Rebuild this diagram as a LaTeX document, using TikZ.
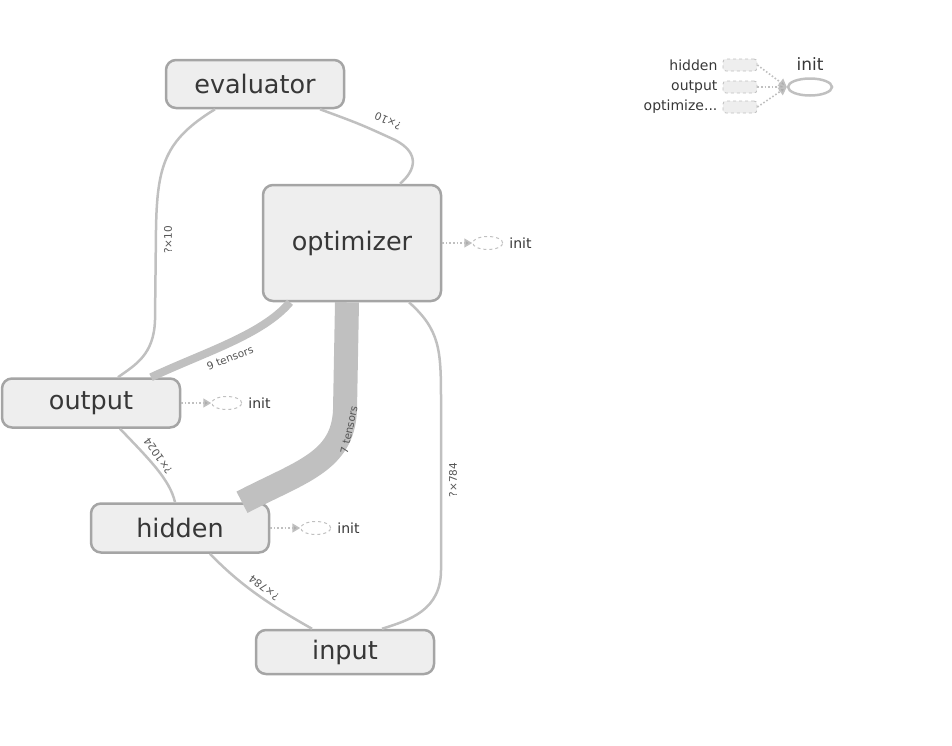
\documentclass[tikz,border=0pt]{standalone}
\usepackage{fontspec}
\setmainfont{DejaVu Sans}
\usetikzlibrary{positioning,arrows.meta,shapes.geometric}

\definecolor{opfill}{RGB}{238,238,238}
\definecolor{opline}{RGB}{165,165,165}
\definecolor{flowgray}{RGB}{192,192,192}
\definecolor{labelgray}{RGB}{55,55,55}

\tikzset{
  op/.style={draw=opline, fill=opfill, line width=2.5pt, rounded corners=10pt,
    text=labelgray, inner sep=0pt, minimum width=178pt, minimum height=48pt,
    font=\fontsize{25.5}{30}\selectfont},
  flow/.style={draw=flowgray, line width=2.5pt},
  shapelbl/.style={text=labelgray!85, inner sep=1pt, font=\fontsize{10.5}{12}\selectfont},
  initref/.style={ellipse, draw=flowgray, dashed, line width=1pt, inner sep=0pt,
    minimum width=30pt, minimum height=13pt},
  ctrldep/.style={draw=flowgray, dotted, line width=1.6pt,
    -{Triangle[length=8pt,width=9pt,fill=flowgray!90!black]}},
  initlbl/.style={text=labelgray, inner sep=1pt, font=\fontsize{14}{16}\selectfont},
  stub/.style={draw=flowgray, fill=opfill, dashed, line width=0.8pt,
    rounded corners=3pt, minimum width=34pt, minimum height=12pt, inner sep=0pt},
}

\begin{document}
\begin{tikzpicture}[x=1pt, y=-1pt]
  \useasboundingbox (0,0) rectangle (952,745);

  % main ops of the graph
  \node[op] (evaluator) at (255,84) {evaluator};
  \node[op, minimum height=116pt] (optimizer) at (352,243) {optimizer};
  \node[op, minimum height=49pt] (output) at (91,403) {output};
  \node[op, minimum height=49pt] (hidden) at (180,528) {hidden};
  \node[op, minimum height=44pt] (input) at (345,652) {input};

  % data edges, thickness follows the number of tensors
  \draw[flow] ([xshift=-40pt]evaluator.south)
    .. controls (165,140) and (157,165) .. (156,230) -- (155,320)
    .. controls (154,355) and (135,365) .. ([xshift=27pt]output.north);
  \node[shapelbl, rotate=90] (evalout) at (168,240) {?×10};

  \draw[flow] ([xshift=65pt]evaluator.south)
    .. controls (360,124) .. (395,140)
    .. controls (420,153) and (416,170) .. ([xshift=48pt]optimizer.north);
  \node[shapelbl, rotate=156] (evalopt) at (388,121) {?×10};

  \draw[flow, line width=8pt] ([xshift=-62pt]optimizer.south)
    .. controls (262,335) and (205,352) .. ([xshift=60pt]output.north);
  \node[shapelbl, rotate=21] (optout) at (230,358) {9 tensors};

  \draw[flow, line width=24pt] ([xshift=-5pt]optimizer.south)
    -- (345,410) .. controls (343,462) and (300,472) .. ([xshift=62pt]hidden.north);
  \node[shapelbl, rotate=78] (opthid) at (349,430) {7 tensors};

  \draw[flow] ([xshift=57pt]optimizer.south)
    .. controls (440,330) and (441,350) .. (441,400) -- (441,570)
    .. controls (441,610) and (410,620) .. ([xshift=37pt]input.north);
  \node[shapelbl, rotate=90] (optin) at (453,480) {?×784};

  \draw[flow] ([xshift=29pt]output.south)
    .. controls (150,460) and (170,480) .. ([xshift=-5pt]hidden.north);
  \node[shapelbl, rotate=125] (outhid) at (158,456) {?×1024};

  \draw[flow] ([xshift=30pt]hidden.south)
    .. controls (240,585) and (270,605) .. ([xshift=-33pt]input.north);
  \node[shapelbl, rotate=143] (hidin) at (264,588) {?×784};

  % control deps into init
  \node[initref, right=30pt of optimizer] (optinit) {};
  \node[initlbl, right=5pt of optinit] (optinitlbl) {init};
  \draw[ctrldep] (optimizer) -- (optinit);

  \node[initref, right=30pt of output] (outinit) {};
  \node[initlbl, right=5pt of outinit] (outinitlbl) {init};
  \draw[ctrldep] (output) -- (outinit);

  \node[initref, right=30pt of hidden] (hidinit) {};
  \node[initlbl, right=5pt of hidinit] (hidinitlbl) {init};
  \draw[ctrldep] (hidden) -- (hidinit);

  % init op on its own, with stubs for its inputs
  \node[ellipse, draw=flowgray, line width=2.5pt, minimum width=44pt,
    minimum height=17pt, inner sep=0pt] (init) at (810,87) {};
  \node[text=labelgray, inner sep=0pt, font=\fontsize{17}{20}\selectfont,
    above=7pt of init] (initname) {init};
  \node[stub] (hidstub) at (740,65) {};
  \node[stub] (outstub) at (740,87) {};
  \node[stub] (optstub) at (740,107) {};
  \node[initlbl, left=4pt of hidstub] (hidstublbl) {hidden};
  \node[initlbl, left=4pt of outstub] (outstublbl) {output};
  \node[initlbl, left=4pt of optstub] (optstublbl) {optimize...};
  \draw[ctrldep] (hidstub.east) -- (init.west);
  \draw[ctrldep] (outstub.east) -- (init.west);
  \draw[ctrldep] (optstub.east) -- (init.west);
\end{tikzpicture}
\end{document}
